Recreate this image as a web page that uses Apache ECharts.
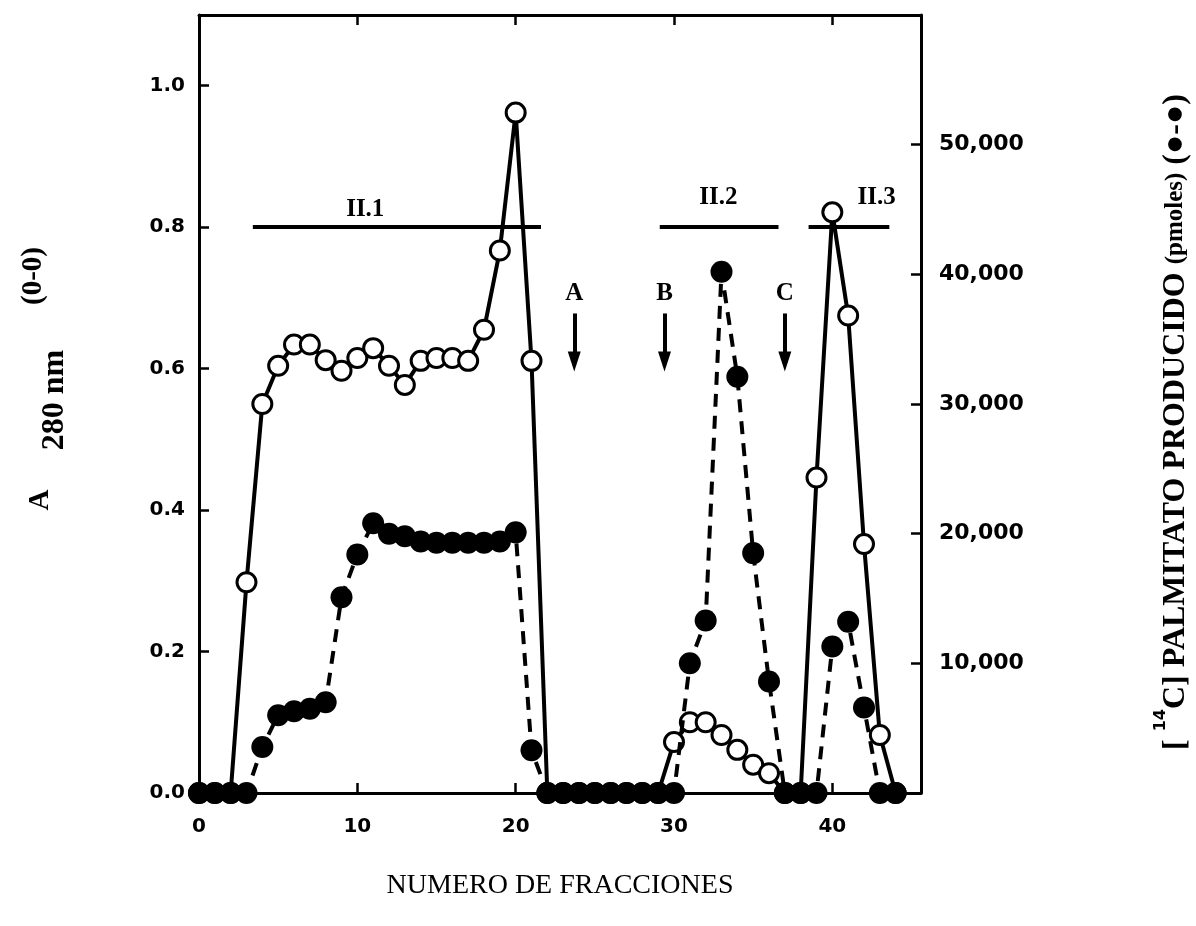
<!DOCTYPE html>
<html>
<head>
<meta charset="utf-8">
<script src="https://cdn.jsdelivr.net/npm/echarts@6/dist/echarts.min.js"></script>
<style>
html, body { margin: 0; padding: 0; background: #fff; }
#chart { width: 1196px; height: 926px; }
</style>
</head>
<body>
<div id="chart"></div>
<script>
// numero de fraccion
const fracciones = [0, 1, 2, 3, 4, 5, 6, 7, 8, 9, 10, 11, 12, 13, 14, 15, 16, 17, 18, 19, 20, 21, 22,
    23, 24, 25, 26, 27, 28, 29, 30, 31, 32, 33, 34, 35, 36, 37, 38, 39, 40, 41, 42, 43, 44];
// A 280 nm (o-o)
const a280 = [0, 0, 0, 0.298, 0.55, 0.604, 0.634, 0.634, 0.612, 0.597, 0.615, 0.629, 0.604, 0.577,
    0.611, 0.615, 0.615, 0.611, 0.655, 0.767, 0.962, 0.611, 0, 0, 0, 0, 0, 0, 0, 0,
    0.072, 0.10, 0.10, 0.082, 0.061, 0.040, 0.028, 0, 0, 0.446, 0.821, 0.675, 0.352, 0.082, 0];
// [14C] palmitato producido, pmoles (●-●)
const palmitato = [0, 0, 0, 0, 3550, 6000, 6300, 6500, 7000, 15100, 18400, 20800, 20000, 19800,
    19400, 19300, 19300, 19300, 19300, 19400, 20100, 3300, 0, 0, 0, 0, 0, 0, 0, 0,
    0, 10000, 13300, 40200, 32100, 18500, 8600, 0, 0, 0, 11300, 13200, 6600, 0, 0];

const ticksX = [0, 10, 20, 30, 40];
const ticksA = [0, 0.2, 0.4, 0.6, 0.8, 1.0];
const ticksP = [10000, 20000, 30000, 40000, 50000];

// picos II.1, II.2, II.3
const bandas = ['II.1', 'II.2', 'II.3'];
const bandaIni = [3.4, 29.1, 38.5];
const bandaFin = [21.6, 36.6, 43.6];
const bandaNivel = 0.8;
const bandaTextoX = [10.5, 32.8, 42.8];
const bandaTextoY = [0.825, 0.842, 0.842];

// flechas A, B, C
const flechas = ['A', 'B', 'C'];
const flechaX = [23.7, 29.4, 37.0];
const flechaArriba = 0.678;
const flechaAbajo = 0.610;
const flechaTextoY = 0.706;

const negro = '#000';
const serif = '"Liberation Serif", "DejaVu Serif", serif';
const sans = '"DejaVu Sans", sans-serif';

const chart = echarts.init(document.getElementById('chart'));

// ejes como marco: sin onZero, marcas hacia dentro
const linea = () => ({ show: true, onZero: false, lineStyle: { color: negro, width: 3 } });
const marcas = () => ({ inside: true, length: 10, lineStyle: { color: negro, width: 2.5 } });

const ejeX = (pos, conTexto) => ({
    type: 'value',
    position: pos,
    min: 0,
    max: 45.6,
    interval: 10,
    axisLine: linea(),
    axisTick: marcas(),
    axisLabel: conTexto ? {
        customValues: ticksX, margin: 24, color: negro,
        fontSize: 20, fontWeight: 'bold', fontFamily: sans
    } : { show: false },
    splitLine: { show: false }
});

const option = {
    backgroundColor: '#fff',
    animation: false,
    grid: { left: 199, right: 275, top: 15, bottom: 133 },
    xAxis: [ejeX('bottom', true), ejeX('top', false)],
    yAxis: [
        {
            type: 'value', position: 'left', min: 0, max: 1.1, interval: 0.2,
            axisLine: linea(),
            axisTick: marcas(),
            axisLabel: {
                customValues: ticksA, margin: 14, color: negro,
                fontSize: 20, fontWeight: 'bold', fontFamily: sans,
                formatter: v => v.toFixed(1)
            },
            splitLine: { show: false }
        },
        {
            type: 'value', position: 'right', min: 0, max: 60000, interval: 10000,
            axisLine: linea(),
            axisTick: marcas(),
            axisLabel: {
                customValues: ticksP, margin: 18, color: negro,
                fontSize: 22, fontWeight: 'bold', fontFamily: sans,
                formatter: v => v.toLocaleString('en-US')
            },
            splitLine: { show: false }
        }
    ],
    series: [
        {
            name: 'A280',
            type: 'line',
            yAxisIndex: 0,
            clip: false,
            data: fracciones.map((f, i) => [f, a280[i]]),
            symbol: 'circle',
            symbolSize: 19,
            itemStyle: { color: '#fff', borderColor: negro, borderWidth: 3 },
            lineStyle: { color: negro, width: 4 },
            z: 2,
            markLine: {
                silent: true,
                symbol: ['none', 'none'],
                label: { show: false },
                lineStyle: { color: negro, width: 4, type: 'solid' },
                data: bandas.map((b, i) => [
                    { coord: [bandaIni[i], bandaNivel] },
                    { coord: [bandaFin[i], bandaNivel] }
                ]).concat(flechas.map((f, i) => [
                    { coord: [flechaX[i], flechaArriba], symbol: 'none' },
                    { coord: [flechaX[i], flechaAbajo], symbol: 'triangle', symbolSize: [13, 20], symbolRotate: 180 }
                ]))
            },
            markPoint: {
                silent: true,
                symbol: 'circle',
                symbolSize: 0,
                label: {
                    show: true, position: 'inside', formatter: '{b}', color: negro,
                    fontFamily: serif, fontWeight: 'bold', fontSize: 25
                },
                data: bandas.map((b, i) => ({ name: b, coord: [bandaTextoX[i], bandaTextoY[i]] }))
                    .concat(flechas.map((f, i) => ({ name: f, coord: [flechaX[i], flechaTextoY] })))
            }
        },
        {
            name: 'palmitato',
            type: 'line',
            yAxisIndex: 1,
            clip: false,
            data: fracciones.map((f, i) => [f, palmitato[i]]),
            symbol: 'circle',
            symbolSize: 22,
            itemStyle: { color: negro },
            lineStyle: { color: negro, width: 4, type: [13, 9] },
            z: 3
        }
    ],
    graphic: [
        {
            type: 'text', x: 560, y: 886,
            style: { text: 'NUMERO DE FRACCIONES', font: '28px ' + serif, fill: negro, textAlign: 'center', textVerticalAlign: 'middle' }
        },
        {
            type: 'text', x: 41, y: 500, rotation: Math.PI / 2,
            style: { text: 'A', font: 'bold 29px ' + serif, fill: negro, textAlign: 'center', textVerticalAlign: 'middle' }
        },
        {
            type: 'text', x: 55, y: 400, rotation: Math.PI / 2,
            style: { text: '280 nm', font: 'bold 32px ' + serif, fill: negro, textAlign: 'center', textVerticalAlign: 'middle' }
        },
        {
            type: 'text', x: 34, y: 276, rotation: Math.PI / 2,
            style: { text: '(0-0)', font: 'bold 29px ' + serif, fill: negro, textAlign: 'center', textVerticalAlign: 'middle' }
        },
        {
            type: 'text', x: 1176, y: 422, rotation: Math.PI / 2,
            style: {
                text: '{a|[ }{s|14}{a|C] PALMITATO PRODUCIDO }{p|(pmoles)}{a| (●-●)}',
                fill: negro, textAlign: 'center', textVerticalAlign: 'middle',
                rich: {
                    a: { fontFamily: serif, fontWeight: 'bold', fontSize: 32, lineHeight: 46, fill: negro },
                    p: { fontFamily: serif, fontWeight: 'bold', fontSize: 25, lineHeight: 46, fill: negro },
                    s: { fontFamily: sans, fontWeight: 'bold', fontSize: 16, lineHeight: 46, verticalAlign: 'top', fill: negro }
                }
            }
        }
    ]
};

chart.setOption(option);
</script>
</body>
</html>
